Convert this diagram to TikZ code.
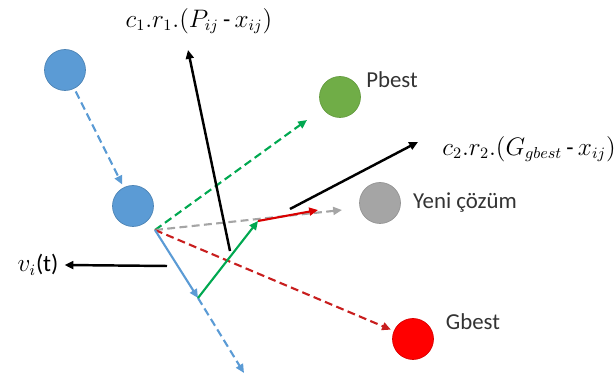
\documentclass[tikz,border=0pt]{standalone}
\usepackage{amsmath,amssymb}
\usepackage{fontspec}
\setmainfont{Carlito}
\usepackage{tikz}
\usetikzlibrary{positioning,arrows.meta,calc}
\usepackage{xcolor}
\definecolor{offblue}{RGB}{91,155,213}
\definecolor{offgreen}{RGB}{112,173,71}
\definecolor{offgray}{RGB}{165,165,165}
\definecolor{arrgreen}{RGB}{0,168,80}
\definecolor{arrred}{RGB}{200,30,30}

\begin{document}
\begin{tikzpicture}[
  x=0.02cm, y=-0.02cm,
  >={Triangle[length=5pt,width=4.5pt]},
  dot/.style={circle, minimum size=0.82cm, inner sep=0pt, outer sep=2pt},
  particle/.style={dot, fill=offblue, draw=offblue!85!black, line width=0.4pt},
  pbestdot/.style={dot, fill=offgreen, draw=offgreen!90!black, line width=0.4pt},
  newdot/.style={dot, fill=offgray, draw=offgray!90!black, line width=0.4pt},
  gbestdot/.style={dot, fill=red, draw=red!85!black, line width=0.4pt},
  lbl/.style={font=\fontsize{13}{15}\selectfont, text=black!80},
  mlbl/.style={font=\fontsize{13.5}{15}\selectfont, text=black},
  dsh/.style={->, line width=1.2pt, dash pattern=on 4.5pt off 2.5pt},
  sld/.style={->, line width=1.2pt},
  arr/.style={->, line width=1.4pt}
]
  \useasboundingbox (0,0) rectangle (616,381);
  % particles and best positions
  \node[particle] (old) at (65,70) {};
  \node[particle] (cur) at (133,206) {};
  \node[pbestdot] (pbest) at (340,97) {};
  \node[newdot] (new) at (380,203) {};
  \node[gbestdot] (gbest) at (413,339) {};
  \node[lbl] (pbestlbl) at (392,80) {Pbest};
  \node[lbl, right=0.06cm of new] (newlbl) {Yeni çözüm};
  \node[lbl] (gbestlbl) at (473,322) {Gbest};
  \node[mlbl] (c1lbl) at (199,21) {$c_1.r_1.(P_{ij}\,\text{-}\,x_{ij})$};
  \node[mlbl] (c2lbl) at (529,149) {$c_2.r_2.(G_{gbest}\,\text{-}\,x_{ij})$};
  \node[mlbl] (vlbl) at (38,265) {$v_i$(t)};
  % vector end points
  \coordinate (o) at (155,230);
  \coordinate (vtip) at (198,298);
  \coordinate (btip) at (244,373);
  \coordinate (ptip) at (258,221);
  \coordinate (rtip) at (318,210);
  \coordinate (ytip) at (342,210);
  \coordinate (gtip) at (307,120);
  \coordinate (c1a) at (230,251);
  \coordinate (c1b) at (188,50);
  \coordinate (c2a) at (290,209);
  \coordinate (c2b) at (418,142);
  \coordinate (va) at (167,266);
  % dashed moves
  \draw[dsh, offblue] (old) -- (cur);
  \draw[dsh, offblue] (vtip) -- (btip);
  \draw[dsh, arrgreen] (o) -- (gtip);
  \draw[dsh, offgray] (o) -- (ytip);
  \draw[dsh, arrred] (o) -- (gbest);
  % velocity update
  \draw[sld, offblue] (o) -- (vtip);
  \draw[sld, arrgreen] (vtip) -- (ptip);
  \draw[sld, red!85!black] (ptip) -- (rtip);
  \draw[arr] (c1a) -- (c1b);
  \draw[arr] (c2a) -- (c2b);
  \draw[arr] (va) -- (vlbl.east);
\end{tikzpicture}
\end{document}
